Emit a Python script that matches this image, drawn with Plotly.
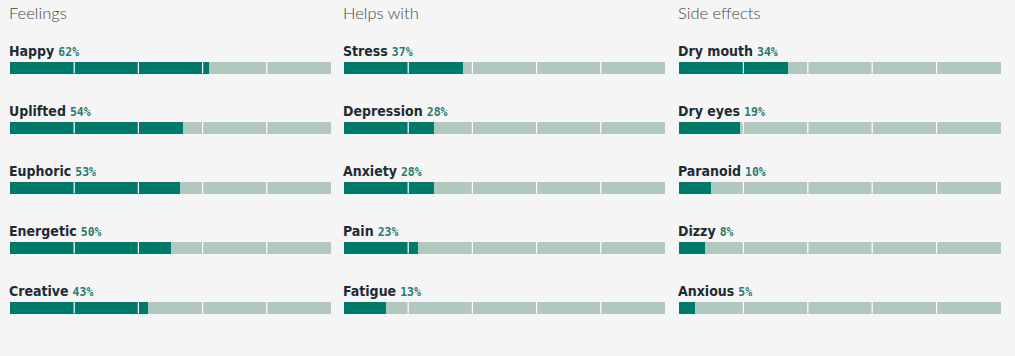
import plotly.graph_objects as go

headings = ["Feelings", "Helps with", "Side effects"]
feel_labels = ["Happy", "Uplifted", "Euphoric", "Energetic", "Creative"]
feel_values = [62, 54, 53, 50, 43]
help_labels = ["Stress", "Depression", "Anxiety", "Pain", "Fatigue"]
help_values = [37, 28, 28, 23, 13]
side_labels = ["Dry mouth", "Dry eyes", "Paranoid", "Dizzy", "Anxious"]
side_values = [34, 19, 10, 8, 5]
separators = [20, 40, 60, 80]

groups = [(feel_labels, feel_values), (help_labels, help_values), (side_labels, side_values)]

W, H = 1015, 356
BG = "#f5f5f5"
DARK = "#007b69"
LIGHT = "#b3c7c1"
TEXT = "#1d2b33"
PCT = "#2b7c70"

col_px = [(10, 331), (344, 665), (679, 1001)]
# rows: bar centers at 67.5 + 60*i pixels
yr = [(H - 67.5) / 60, -67.5 / 60]

fig = go.Figure()
shapes = []
annotations = []
for c, ((labels, values), head) in enumerate(zip(groups, headings)):
    xa = "x" if c == 0 else f"x{c+1}"
    ya = "y" if c == 0 else f"y{c+1}"
    idx = list(range(len(labels)))
    fig.add_trace(go.Bar(x=[100] * len(labels), y=idx, orientation="h", width=0.2,
                         marker=dict(color=LIGHT, line=dict(width=0)), xaxis=xa, yaxis=ya,
                         hoverinfo="skip", showlegend=False))
    fig.add_trace(go.Bar(x=values, y=idx, orientation="h", width=0.2,
                         marker=dict(color=DARK, line=dict(width=0)), xaxis=xa, yaxis=ya,
                         text=[f"{l} {v}%" for l, v in zip(labels, values)],
                         textposition="none", hoverinfo="text", showlegend=False))
    for i, (l, v) in enumerate(zip(labels, values)):
        for s in separators:
            shapes.append(dict(type="line", xref=xa, yref=ya, x0=s, x1=s, y0=i - 0.1, y1=i + 0.1,
                               line=dict(color="white", width=1.2), layer="above"))
        annotations.append(dict(
            xref=xa, yref=ya, x=0, y=i, xanchor="left", yanchor="bottom",
            xshift=-3, yshift=7, showarrow=False,
            text=(f"<b>{l}</b> <span style='font-family:DejaVu Sans Mono;font-size:11.5px;"
                  f"color:{PCT}'><b>{v}%</b></span>"),
            font=dict(family="DejaVu Sans Condensed, Liberation Sans Narrow, sans-serif",
                      size=14, color=TEXT)))
    d0 = col_px[c][0] / W
    d1 = col_px[c][1] / W
    annotations.append(dict(xref="paper", yref="paper", x=d0, y=1, xanchor="left", yanchor="top",
                            xshift=-3, yshift=-1, showarrow=False, text=head,
                            font=dict(family="Lato, Open Sans, sans-serif", size=16.5, color="#4a4a4a",
                                      weight=300)))
    fig.layout[("xaxis" if c == 0 else f"xaxis{c+1}")] = dict(
        domain=[d0, d1], range=[0, 100], visible=False, fixedrange=True, anchor=ya)
    fig.layout[("yaxis" if c == 0 else f"yaxis{c+1}")] = dict(
        domain=[0, 1], range=yr, visible=False, fixedrange=True, anchor=xa)

fig.update_layout(width=W, height=H, margin=dict(l=0, r=0, t=0, b=0),
                  paper_bgcolor=BG, plot_bgcolor=BG, barmode="overlay",
                  shapes=shapes, annotations=annotations, bargap=0)
fig.write_html("out.html", config={"displayModeBar": False},
               post_script="document.body.style.margin='0';document.body.style.background='#f5f5f5';document.body.style.overflow='hidden';")
